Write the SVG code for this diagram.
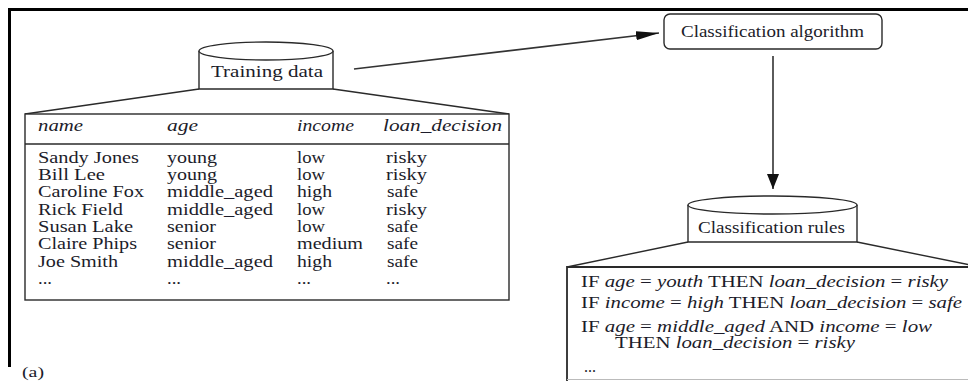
<svg xmlns="http://www.w3.org/2000/svg" width="968" height="381" viewBox="0 0 968 381">
  <style>
    text { font-family: "Liberation Serif", "Times New Roman", serif; fill: #1c1c2a; }
    .lbl { font-size: 17px; }
    .cell { font-size: 16px; }
    .hdr { font-size: 16px; font-style: italic; }
    .rule { font-size: 16px; }
    .tag { font-size: 15px; }
    .it { font-style: italic; }
    .edge { fill: #fff; stroke: #2a2a2a; stroke-width: 1.4; }
    .fan { fill: none; stroke: #2a2a2a; stroke-width: 1.4; }
    .conn { fill: none; stroke: #333; stroke-width: 1.6; }
  </style>
  <defs>
    <marker id="head-long" viewBox="0 0 23 9" refX="23" refY="4.5" markerWidth="23" markerHeight="9" markerUnits="userSpaceOnUse" orient="auto">
      <path d="M0,0 L23,4.5 L0,9 Z" fill="#111"/>
    </marker>
    <marker id="head-wide" viewBox="0 0 15 12" refX="15" refY="6" markerWidth="15" markerHeight="12" markerUnits="userSpaceOnUse" orient="auto">
      <path d="M0,0 L15,6 L0,12 Z" fill="#111"/>
    </marker>
  </defs>

  <rect width="968" height="381" fill="#fff"/>

  <!-- frame -->
  <path d="M9.5,367 V9.5 H968" fill="none" stroke="#000" stroke-width="3"/>
  <text x="22" y="377" class="tag" textLength="22" lengthAdjust="spacingAndGlyphs">(a)</text>

  <!-- training data store with its table -->
  <g id="training-data">
    <path class="fan" d="M199,89 L25,114 M333,89 L509,114"/>
    <path class="edge" d="M199,51 V89 H333 V51"/>
    <ellipse class="edge" cx="266" cy="51" rx="67" ry="9"/>
    <text x="211" y="77" class="lbl" textLength="112" lengthAdjust="spacingAndGlyphs">Training data</text>

    <rect class="edge" x="25" y="114" width="484" height="186"/>
    <line class="fan" x1="25" y1="144" x2="509" y2="144"/>
    <text x="38" y="131" class="hdr" textLength="45" lengthAdjust="spacingAndGlyphs">name</text>
    <text x="167" y="131" class="hdr" textLength="31" lengthAdjust="spacingAndGlyphs">age</text>
    <text x="297" y="131" class="hdr" textLength="57" lengthAdjust="spacingAndGlyphs">income</text>
    <text x="383" y="131" class="hdr" textLength="119" lengthAdjust="spacingAndGlyphs">loan_decision</text>

    <g class="cell">
      <text x="38" y="163" textLength="101" lengthAdjust="spacingAndGlyphs">Sandy Jones</text>
      <text x="38" y="180" textLength="67" lengthAdjust="spacingAndGlyphs">Bill Lee</text>
      <text x="38" y="197" textLength="106" lengthAdjust="spacingAndGlyphs">Caroline Fox</text>
      <text x="38" y="215" textLength="85" lengthAdjust="spacingAndGlyphs">Rick Field</text>
      <text x="38" y="232" textLength="95" lengthAdjust="spacingAndGlyphs">Susan Lake</text>
      <text x="38" y="249" textLength="99" lengthAdjust="spacingAndGlyphs">Claire Phips</text>
      <text x="38" y="267" textLength="80" lengthAdjust="spacingAndGlyphs">Joe Smith</text>
      <text x="38" y="284" textLength="14" lengthAdjust="spacingAndGlyphs">...</text>

      <text x="167" y="163" textLength="50" lengthAdjust="spacingAndGlyphs">young</text>
      <text x="167" y="180" textLength="50" lengthAdjust="spacingAndGlyphs">young</text>
      <text x="167" y="197" textLength="106" lengthAdjust="spacingAndGlyphs">middle_aged</text>
      <text x="167" y="215" textLength="106" lengthAdjust="spacingAndGlyphs">middle_aged</text>
      <text x="167" y="232" textLength="49" lengthAdjust="spacingAndGlyphs">senior</text>
      <text x="167" y="249" textLength="49" lengthAdjust="spacingAndGlyphs">senior</text>
      <text x="167" y="267" textLength="106" lengthAdjust="spacingAndGlyphs">middle_aged</text>
      <text x="167" y="284" textLength="14" lengthAdjust="spacingAndGlyphs">...</text>

      <text x="297" y="163" textLength="28" lengthAdjust="spacingAndGlyphs">low</text>
      <text x="297" y="180" textLength="28" lengthAdjust="spacingAndGlyphs">low</text>
      <text x="297" y="197" textLength="35" lengthAdjust="spacingAndGlyphs">high</text>
      <text x="297" y="215" textLength="28" lengthAdjust="spacingAndGlyphs">low</text>
      <text x="297" y="232" textLength="28" lengthAdjust="spacingAndGlyphs">low</text>
      <text x="297" y="249" textLength="66" lengthAdjust="spacingAndGlyphs">medium</text>
      <text x="297" y="267" textLength="35" lengthAdjust="spacingAndGlyphs">high</text>
      <text x="297" y="284" textLength="14" lengthAdjust="spacingAndGlyphs">...</text>

      <text x="386" y="163" textLength="41" lengthAdjust="spacingAndGlyphs">risky</text>
      <text x="386" y="180" textLength="41" lengthAdjust="spacingAndGlyphs">risky</text>
      <text x="387" y="197" textLength="31" lengthAdjust="spacingAndGlyphs">safe</text>
      <text x="386" y="215" textLength="41" lengthAdjust="spacingAndGlyphs">risky</text>
      <text x="387" y="232" textLength="31" lengthAdjust="spacingAndGlyphs">safe</text>
      <text x="387" y="249" textLength="31" lengthAdjust="spacingAndGlyphs">safe</text>
      <text x="387" y="267" textLength="31" lengthAdjust="spacingAndGlyphs">safe</text>
      <text x="386" y="284" textLength="14" lengthAdjust="spacingAndGlyphs">...</text>
    </g>
  </g>

  <!-- learning step -->
  <g id="classification-algorithm">
    <rect class="edge" x="664" y="14" width="218" height="35" rx="6"/>
    <text x="681" y="37" class="lbl" textLength="183" lengthAdjust="spacingAndGlyphs">Classification algorithm</text>
  </g>

  <!-- learned model with its rules -->
  <g id="classification-rules">
    <path class="fan" d="M688,242 L567,267 M857,242 L980,267"/>
    <path d="M567,381 V267 H968" fill="none" stroke="#2a2a2a" stroke-width="1.8"/>
    <line x1="567" y1="379.5" x2="968" y2="379.5" stroke="#bbb" stroke-width="1.2"/>
    <path class="edge" d="M688,205 V242 H857 V205"/>
    <ellipse class="edge" cx="772.5" cy="205" rx="84.5" ry="9"/>
    <text x="698" y="233" class="lbl" textLength="147" lengthAdjust="spacingAndGlyphs">Classification rules</text>

    <text x="581" y="287" class="rule" textLength="367" lengthAdjust="spacingAndGlyphs">IF <tspan class="it">age</tspan> = <tspan class="it">youth</tspan> THEN <tspan class="it">loan_decision</tspan> = <tspan class="it">risky</tspan></text>
    <text x="581" y="308" class="rule" textLength="381" lengthAdjust="spacingAndGlyphs">IF <tspan class="it">income</tspan> = <tspan class="it">high</tspan> THEN <tspan class="it">loan_decision</tspan> = <tspan class="it">safe</tspan></text>
    <text x="581" y="332" class="rule" textLength="351" lengthAdjust="spacingAndGlyphs">IF <tspan class="it">age</tspan> = <tspan class="it">middle_aged</tspan> AND <tspan class="it">income</tspan> = <tspan class="it">low</tspan></text>
    <text x="615" y="348" class="rule" textLength="240" lengthAdjust="spacingAndGlyphs">THEN <tspan class="it">loan_decision</tspan> = <tspan class="it">risky</tspan></text>
    <text x="584" y="372" class="rule" textLength="12" lengthAdjust="spacingAndGlyphs">...</text>
  </g>

  <!-- connectors -->
  <g id="connectors">
    <line class="conn" x1="354" y1="69" x2="659" y2="33" marker-end="url(#head-long)"/>
    <line class="conn" x1="773" y1="56" x2="773" y2="189" stroke-width="2" marker-end="url(#head-wide)"/>
  </g>
</svg>
